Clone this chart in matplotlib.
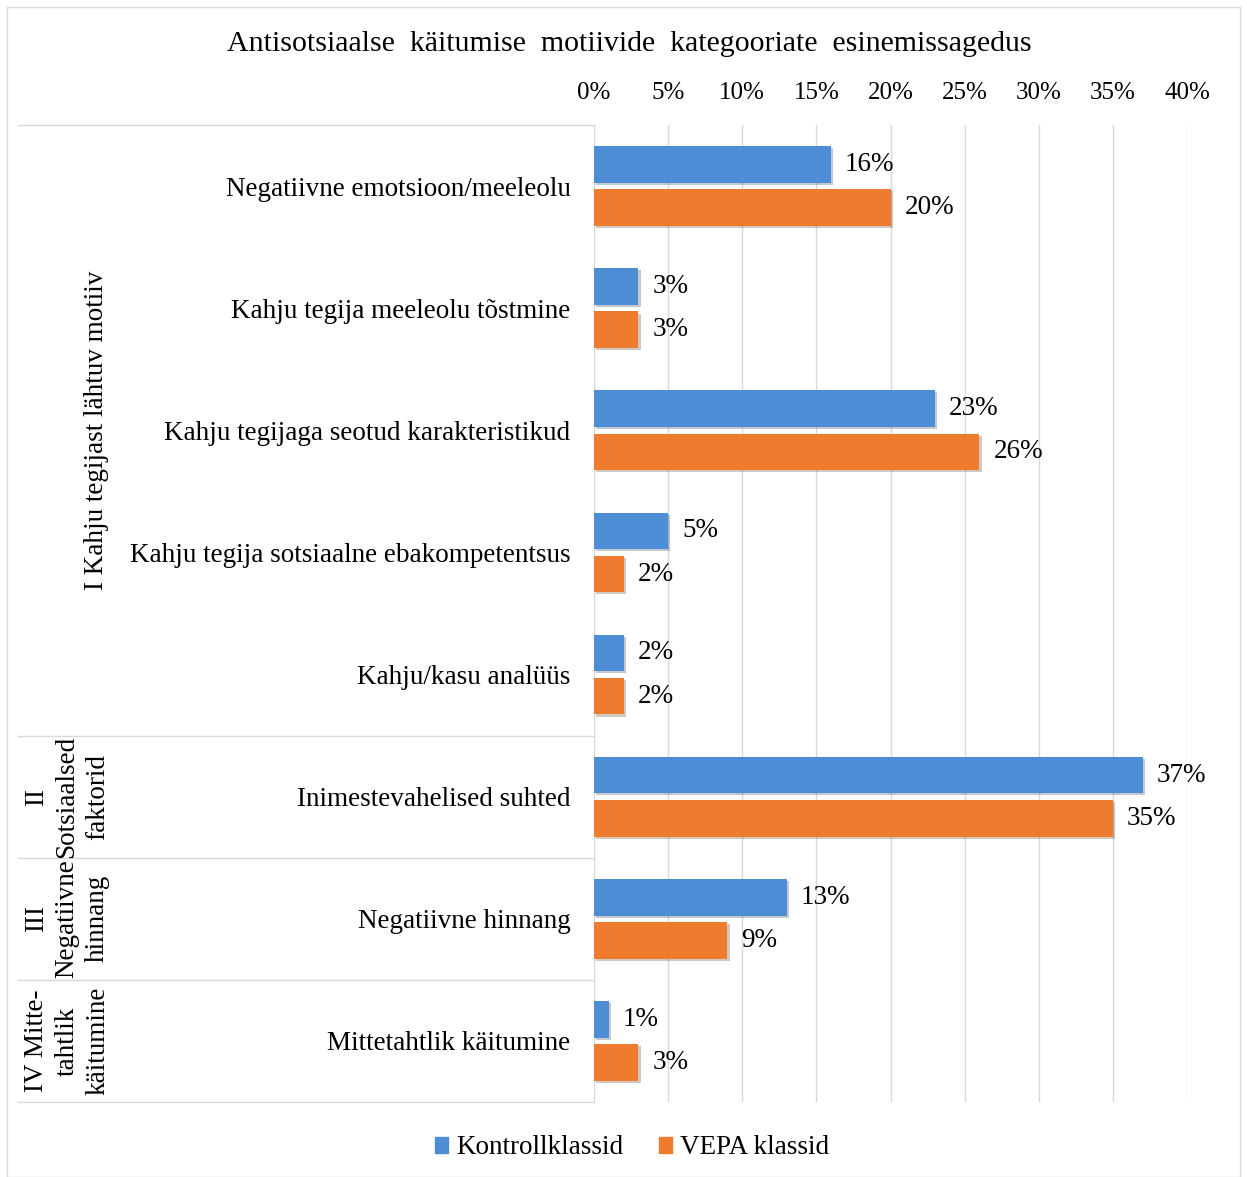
import matplotlib.pyplot as plt
import matplotlib.patheffects as pe
from matplotlib.patches import Rectangle, Patch
from matplotlib.ticker import PercentFormatter

plt.rcParams['font.family'] = ['Liberation Serif', 'DejaVu Serif']

title = 'Antisotsiaalse  käitumise  motiivide  kategooriate  esinemissagedus'
categories = [
    'Negatiivne emotsioon/meeleolu',
    'Kahju tegija meeleolu tõstmine',
    'Kahju tegijaga seotud karakteristikud',
    'Kahju tegija sotsiaalne ebakompetentsus',
    'Kahju/kasu analüüs',
    'Inimestevahelised suhted',
    'Negatiivne hinnang',
    'Mittetahtlik käitumine',
]
kontroll = [0.16, 0.03, 0.23, 0.05, 0.02, 0.37, 0.13, 0.01]
vepa = [0.20, 0.03, 0.26, 0.02, 0.02, 0.35, 0.09, 0.03]
series_names = ['Kontrollklassid', 'VEPA klassid']
# groups: (label, first category index, last category index)
groups = [
    ('I Kahju tegijast lähtuv motiiv', 0, 4),
    ('II\nSotsiaalsed\nfaktorid', 5, 5),
    ('III\nNegatiivne\nhinnang', 6, 6),
    ('IV Mitte-\ntahtlik\nkäitumine', 7, 7),
]

blue = '#4C8DD6'
orange = '#EF7C2E'
line_col = '#D9D9D9'
fs = 19.5

W, H = 1247, 1177
fig = plt.figure(figsize=(W / 100, H / 100), dpi=100)
fig.patches.append(Rectangle((7 / W, 0), (1240 - 7) / W, (H - 7) / H, transform=fig.transFigure,
                             fill=False, edgecolor=line_col, linewidth=1))

ax = fig.add_axes([594 / W, (H - 1102) / H, (1187 - 594) / W, (1102 - 125) / H])

y = list(range(len(categories)))
off, h = 0.177, 0.30
shadow = [pe.SimplePatchShadow(offset=(1.5, -1.5), alpha=0.25), pe.Normal()]
b1 = ax.barh([v - off for v in y], kontroll, height=h, color=blue, path_effects=shadow, zorder=3)
b2 = ax.barh([v + off for v in y], vepa, height=h, color=orange, path_effects=shadow, zorder=3)

for bars, vals in ((b1, kontroll), (b2, vepa)):
    ax.bar_label(bars, labels=[f'{round(v * 100)}%' for v in vals], padding=10, fontsize=fs)

ax.set_xlim(0, 0.40)
ax.set_ylim(len(categories) - 0.5, -0.5)
ax.xaxis.set_major_formatter(PercentFormatter(1.0, decimals=0))
ax.set_xticks([i * 0.05 for i in range(9)])
ax.xaxis.tick_top()
ax.tick_params(axis='x', length=0, labelsize=18, pad=15)
ax.set_yticks(y)
ax.set_yticklabels(categories, fontsize=fs)
ax.tick_params(axis='y', length=0, pad=17)
ax.grid(axis='x', color=line_col, linewidth=1, zorder=0)
for s in ('top', 'right', 'bottom'):
    ax.spines[s].set_visible(False)
ax.spines['left'].set_color(line_col)

# group table on the left
yt = ax.get_yaxis_transform()
left = (18 - 594) / (1187 - 594)
bounds = [-0.5] + [g[2] + 0.5 for g in groups]
for b in bounds:
    ax.plot([left, 0], [b, b], color=line_col, linewidth=1, transform=yt, clip_on=False)
for label, a, b in groups:
    xpos = (97 - 594) / (1187 - 594) if a != b else (67 - 594) / (1187 - 594)
    ax.text(xpos, (a + b) / 2, label, transform=yt, rotation=90, ha='center', va='center',
            fontsize=fs, multialignment='center', linespacing=1.3)

fig.text(629 / W, 1 - 44 / H, title, ha='center', va='center', fontsize=21.5)

handles = [Patch(color=blue), Patch(color=orange)]
fig.legend(handles, series_names, loc='center', bbox_to_anchor=(632 / W, 1 - 1148 / H), ncol=2,
           frameon=False, fontsize=fs, handlelength=0.5, handleheight=0.5, handletextpad=0.3,
           columnspacing=1.3)

fig.savefig('out.png', dpi=100)
